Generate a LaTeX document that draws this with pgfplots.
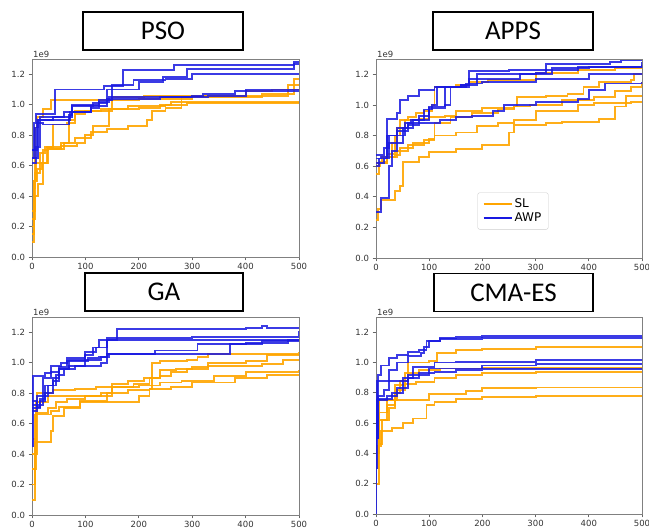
\documentclass[border=0pt]{standalone}
\usepackage{pgfplots}
\pgfplotsset{compat=1.18}
\usepackage{fontspec}
\setmainfont{DejaVu Sans}
\newfontfamily\titlefont{Carlito}
\definecolor{slc}{RGB}{255,165,0}
\definecolor{awpc}{RGB}{25,25,225}
\pgfplotsset{
  panel/.style={
    scale only axis,
    xmin=0, xmax=500, ymin=0, ymax=1.3,
    xtick={0,100,200,300,400,500},
    ytick={0,0.2,0.4,0.6,0.8,1.0,1.2},
    yticklabel style={/pgf/number format/.cd,fixed,fixed zerofill,precision=1},
    scaled y ticks=false,
    axis line style={black!50, line width=0.9pt},
    tick style={black!60, line width=0.7pt},
    tick align=outside, tick pos=left,
    major tick length=3.5pt,
    ticklabel style={font=\fontsize{8.5}{10}\selectfont, text=black!80},
    xticklabel style={yshift=1pt},
    /pgf/number format/assume math mode=true,
    clip mode=individual,
  },
  sl/.style={slc, opacity=0.9, line width=1.9pt, const plot, forget plot},
  awp/.style={awpc, opacity=0.85, line width=1.9pt, const plot, forget plot},
}
\newcommand{\oneenine}{\node[anchor=south west, font=\fontsize{8.5}{10}\selectfont, text=black!80, inner sep=1pt] at (rel axis cs:0,1) {1e9};}
\begin{document}
\begin{tikzpicture}
\useasboundingbox (0pt,0pt) rectangle (649pt,-529pt);
% ---------------- PSO ----------------
\begin{axis}[panel, at={(32pt,-257pt)}, anchor=south west, width=267pt, height=198pt]
\oneenine
\addplot[sl] coordinates {(0,0.1)(3,0.45)(5,0.85)(10,0.92)(20,0.97)(35,1.03)(140,1.03)(200,1.04)(300,1.05)(430,1.07)(490,1.17)(500,1.17)};
\addplot[sl] coordinates {(0,0.2)(3,0.5)(8,0.62)(15,0.68)(25,0.72)(55,0.75)(80,0.78)(110,0.82)(140,0.84)(180,0.86)(215,0.9)(225,0.96)(250,0.98)(280,1.05)(300,1.06)(480,1.13)(500,1.13)};
\addplot[sl] coordinates {(0,0.3)(5,0.55)(15,0.62)(30,0.71)(55,0.73)(85,0.75)(100,0.80)(115,0.86)(145,0.97)(180,0.99)(250,1.0)(290,1.01)(500,1.01)};
\addplot[sl] coordinates {(0,0.25)(5,0.4)(12,0.48)(20,0.7)(30,0.71)(60,0.75)(70,0.90)(80,0.96)(130,0.97)(200,0.98)(240,1.0)(260,1.02)(300,1.02)(500,1.02)};
\addplot[sl] coordinates {(0,0.15)(4,0.5)(10,0.58)(18,0.62)(28,0.72)(40,0.87)(65,0.88)(80,0.94)(100,0.96)(150,1.05)(210,1.06)(300,1.06)(400,1.09)(450,1.1)(500,1.1)};
\addplot[awp] coordinates {(0,0.65)(3,0.88)(8,0.94)(15,0.94)(43,1.10)(128,1.10)(135,1.12)(170,1.23)(266,1.26)(490,1.28)(500,1.28)};
\addplot[awp] coordinates {(0,0.70)(5,0.85)(12,0.90)(40,0.92)(75,0.99)(115,1.01)(140,1.10)(200,1.15)(245,1.18)(290,1.235)(490,1.27)(500,1.27)};
\addplot[awp] coordinates {(0,0.62)(8,0.72)(15,0.92)(60,0.95)(110,0.98)(125,1.03)(150,1.13)(190,1.16)(250,1.17)(300,1.2)(500,1.2)};
\addplot[awp] coordinates {(0,0.7)(10,0.88)(20,0.87)(70,0.93)(75,1.0)(125,1.02)(145,1.05)(300,1.06)(320,1.07)(380,1.09)(500,1.09)};
\addplot[awp] coordinates {(0,0.65)(12,0.90)(40,0.90)(72,0.95)(110,0.99)(140,1.04)(240,1.05)(330,1.06)(400,1.1)(500,1.1)};
\end{axis}
% ---------------- APPS ----------------
\begin{axis}[panel, at={(376pt,-258pt)}, anchor=south west, width=266pt, height=199pt,
  legend style={at={(0.515,0.236)}, anchor=center, font=\fontsize{12}{14}\selectfont,
    draw=black!20, rounded corners=2pt, inner xsep=5pt, inner ysep=4pt},
  legend cell align=left,
  legend image code/.code={\draw[#1, opacity=1] (0pt,0pt) -- (28pt,0pt);}]
\oneenine
\addlegendimage{slc, line width=1.9pt}
\addlegendentry{SL}
\addlegendimage{awpc, line width=1.9pt}
\addlegendentry{AWP}
\addplot[sl] coordinates {(0,0.25)(3,0.32)(10,0.38)(30,0.38)(35,0.44)(45,0.47)(50,0.63)(80,0.66)(100,0.69)(150,0.71)(200,0.74)(250,0.82)(260,0.87)(320,0.88)(350,0.89)(420,0.91)(450,0.99)(470,1.06)(500,1.06)};
\addplot[sl] coordinates {(0,0.6)(8,0.62)(20,0.66)(40,0.70)(60,0.74)(90,0.77)(110,0.80)(150,0.82)(190,0.86)(230,0.88)(260,0.90)(300,0.96)(380,1.00)(410,1.01)(480,1.02)(500,1.02)};
\addplot[sl] coordinates {(0,0.55)(5,0.62)(20,0.66)(35,0.67)(45,0.72)(70,0.75)(100,0.78)(110,0.88)(140,0.92)(180,0.95)(230,0.97)(260,0.99)(265,1.05)(320,1.06)(360,1.07)(390,1.12)(420,1.15)(480,1.16)(485,1.2)(500,1.2)};
\addplot[sl] coordinates {(0,0.62)(8,0.63)(20,0.68)(35,0.8)(45,0.9)(60,0.92)(75,0.95)(90,0.96)(105,1.0)(110,1.12)(150,1.13)(175,1.15)(210,1.16)(300,1.21)(380,1.23)(450,1.24)(500,1.25)};
\addplot[sl] coordinates {(0,0.62)(12,0.66)(30,0.75)(40,0.85)(55,0.9)(80,0.91)(100,0.92)(130,0.93)(150,0.96)(200,0.98)(260,0.99)(290,1.0)(350,1.03)(410,1.05)(450,1.09)(480,1.12)(500,1.15)};
\addplot[awp] coordinates {(0,0.65)(10,0.66)(20,0.91)(40,0.95)(45,1.03)(60,1.06)(80,1.10)(110,1.12)(160,1.13)(190,1.2)(300,1.21)(320,1.27)(440,1.28)(460,1.29)(500,1.29)};
\addplot[awp] coordinates {(0,0.3)(10,0.39)(20,0.39)(25,0.6)(30,0.7)(40,0.8)(55,0.85)(70,0.9)(90,0.97)(105,1.0)(115,1.12)(160,1.13)(175,1.22)(250,1.23)(380,1.25)(500,1.28)};
\addplot[awp] coordinates {(0,0.6)(5,0.65)(20,0.8)(40,0.83)(60,0.87)(80,0.88)(120,0.90)(150,0.92)(180,0.93)(220,0.96)(240,1.0)(300,1.02)(380,1.04)(400,1.1)(430,1.14)(500,1.15)};
\addplot[awp] coordinates {(0,0.67)(15,0.72)(25,0.8)(40,0.85)(55,0.88)(65,0.9)(80,0.93)(100,0.98)(130,1.0)(140,1.12)(170,1.14)(200,1.15)(300,1.17)(400,1.2)(500,1.21)};
\addplot[awp] coordinates {(0,0.62)(15,0.65)(25,0.75)(50,0.85)(60,0.88)(80,0.9)(100,0.99)(130,1.12)(175,1.17)(270,1.2)(330,1.24)(400,1.25)(500,1.26)};
\end{axis}
% ---------------- GA ----------------
\begin{axis}[panel, at={(32pt,-515pt)}, anchor=south west, width=267pt, height=198pt]
\oneenine
\addplot[sl] coordinates {(0,0.1)(5,0.48)(30,0.48)(35,0.55)(40,0.65)(60,0.70)(90,0.74)(180,0.74)(200,0.78)(220,0.83)(225,1.0)(240,1.01)(290,1.02)(310,1.04)(330,1.06)(500,1.07)};
\addplot[sl] coordinates {(0,0.2)(5,0.66)(15,0.66)(35,0.68)(50,0.71)(90,0.75)(140,0.78)(150,0.84)(200,0.85)(225,0.85)(240,0.87)(280,0.88)(340,0.91)(400,0.94)(500,0.95)};
\addplot[sl] coordinates {(0,0.3)(8,0.67)(30,0.70)(45,0.74)(65,0.76)(100,0.78)(140,0.80)(180,0.82)(220,0.83)(260,0.84)(300,0.87)(380,0.9)(440,0.92)(500,0.92)};
\addplot[sl] coordinates {(0,0.4)(10,0.80)(40,0.82)(80,0.83)(120,0.84)(150,0.86)(180,0.88)(210,0.9)(240,0.91)(260,0.94)(290,0.96)(330,1.0)(400,1.01)(440,1.05)(500,1.06)};
\addplot[sl] coordinates {(0,0.5)(8,0.74)(25,0.74)(30,0.78)(60,0.78)(90,0.78)(130,0.80)(150,0.84)(190,0.86)(220,0.90)(240,0.95)(270,0.96)(300,0.97)(330,0.98)(400,0.98)(430,0.99)(470,1.02)(500,1.02)};
\addplot[awp] coordinates {(0,0.45)(2,0.91)(20,0.91)(25,0.93)(35,0.98)(55,1.0)(65,1.03)(100,1.07)(120,1.1)(140,1.15)(160,1.22)(400,1.23)(430,1.24)(440,1.23)(500,1.23)};
\addplot[awp] coordinates {(0,0.68)(10,0.72)(20,0.78)(30,0.85)(40,0.9)(50,0.96)(70,1.02)(100,1.05)(115,1.1)(125,1.15)(140,1.16)(200,1.16)(300,1.17)(500,1.21)};
\addplot[awp] coordinates {(0,0.7)(15,0.75)(25,0.85)(45,0.92)(60,0.96)(80,0.98)(130,1.0)(140,1.06)(230,1.08)(310,1.12)(400,1.13)(480,1.15)(500,1.15)};
\addplot[awp] coordinates {(0,0.72)(10,0.78)(20,0.9)(35,0.94)(50,0.97)(65,1.01)(105,1.03)(125,1.04)(140,1.15)(200,1.15)(350,1.15)(500,1.15)};
\addplot[awp] coordinates {(0,0.75)(10,0.71)(15,0.76)(25,0.80)(40,0.88)(50,0.96)(70,0.98)(100,1.02)(130,1.04)(145,1.06)(365,1.06)(370,1.12)(430,1.14)(500,1.14)};
\end{axis}
% ---------------- CMA-ES ----------------
\begin{axis}[panel, at={(376pt,-514pt)}, anchor=south west, width=266pt, height=197pt]
\oneenine
\addplot[sl] coordinates {(0,0.3)(3,0.45)(10,0.55)(30,0.57)(50,0.6)(70,0.63)(95,0.72)(110,0.74)(150,0.76)(200,0.77)(300,0.78)(500,0.78)};
\addplot[sl] coordinates {(0,0.4)(5,0.75)(90,0.75)(100,0.79)(170,0.81)(200,0.83)(300,0.835)(500,0.84)};
\addplot[sl] coordinates {(0,0.4)(5,0.62)(20,0.75)(40,0.82)(55,0.86)(75,0.87)(110,0.90)(150,0.92)(200,0.93)(300,0.94)(500,0.94)};
\addplot[sl] coordinates {(0,0.2)(5,0.46)(12,0.62)(25,0.70)(35,0.80)(45,0.88)(60,0.93)(80,0.95)(120,0.96)(200,0.965)(500,0.97)};
\addplot[sl] coordinates {(0,0.4)(5,0.67)(20,0.72)(35,0.85)(55,0.93)(60,1.0)(100,1.01)(115,1.06)(150,1.08)(200,1.09)(300,1.1)(500,1.105)};
\addplot[awp] coordinates {(0,0.0)(1,0.75)(3,0.92)(10,0.98)(25,1.03)(40,1.05)(60,1.07)(80,1.08)(95,1.14)(120,1.16)(150,1.17)(200,1.175)(500,1.175)};
\addplot[awp] coordinates {(0,0.5)(3,0.78)(15,0.82)(25,0.95)(40,1.0)(60,1.04)(85,1.06)(90,1.10)(100,1.14)(120,1.155)(200,1.16)(500,1.165)};
\addplot[awp] coordinates {(0,0.3)(2,0.88)(40,0.88)(60,0.92)(100,0.96)(200,0.98)(300,0.99)(500,0.99)};
\addplot[awp] coordinates {(0,0.6)(2,0.75)(20,0.78)(40,0.83)(60,0.90)(80,0.93)(110,0.94)(150,0.95)(200,0.955)(500,0.955)};
\addplot[awp] coordinates {(0,0.5)(3,0.76)(30,0.80)(50,0.90)(70,0.97)(110,1.0)(150,1.005)(300,1.015)(500,1.02)};
\end{axis}
% ---------------- title boxes ----------------
\tikzset{titlebox/.style={draw=black, line width=1.3pt, fill=white, inner sep=0pt,
  minimum height=38pt, font=\titlefont\fontsize{27}{30}\selectfont}}
\node[titlebox, minimum width=160pt] at (163pt,-31pt) {PSO};
\node[titlebox, minimum width=160pt] at (513pt,-31pt) {APPS};
\node[titlebox, minimum width=158pt] at (164pt,-292pt) {GA};
\node[titlebox, minimum width=159pt] at (513.5pt,-292.5pt) {CMA-ES};
\end{tikzpicture}
\end{document}
